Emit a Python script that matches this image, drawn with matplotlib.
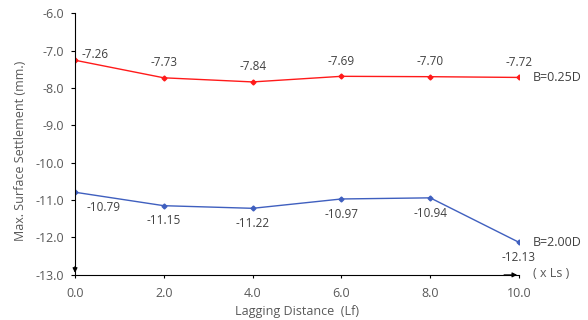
import matplotlib
matplotlib.use("Agg")
import matplotlib.pyplot as plt

x = [0.0, 2.0, 4.0, 6.0, 8.0, 10.0]
b025 = [-7.26, -7.73, -7.84, -7.69, -7.70, -7.72]
b200 = [-10.79, -11.15, -11.22, -10.97, -10.94, -12.13]
xticks = [0.0, 2.0, 4.0, 6.0, 8.0, 10.0]
yticks = [-6.0, -7.0, -8.0, -9.0, -10.0, -11.0, -12.0, -13.0]

plt.rcParams['font.family'] = ['Open Sans', 'DejaVu Sans']
grey = '#595959'
dark = '#404040'
red = '#FF1A1A'
blue = '#3F5FBF'

fig = plt.figure(figsize=(5.88, 3.2), dpi=100)
ax = fig.add_axes([0.1276, 0.141, 0.7551, 0.818])
ax.plot(x, b025, color=red, lw=1.0, marker='D', ms=2.5)
ax.plot(x, b200, color=blue, lw=1.0, marker='D', ms=2.5)
ax.set_xlim(0, 10)
ax.set_ylim(-13, -6)
ax.set_xticks(xticks)
ax.set_xticklabels([f"{v:.1f}" for v in xticks])
ax.set_yticks(yticks)
ax.set_yticklabels([f"{v:.1f}" for v in yticks])
for s in ['top', 'right']:
    ax.spines[s].set_visible(False)
for s in ['left', 'bottom']:
    ax.spines[s].set_color('black')
    ax.spines[s].set_linewidth(0.8)
ax.tick_params(axis='both', labelcolor=grey, color='black', labelsize=9, width=0.8, direction='out')
ax.tick_params(axis='x', length=2, pad=7)
ax.tick_params(axis='y', length=3, pad=5)
ax.set_xlabel('Lagging Distance  (Lf)', color=grey, fontsize=9, labelpad=3)
ax.set_ylabel('Max. Surface Settlement (mm.)', color=grey, fontsize=9)
ax.yaxis.set_label_coords(-0.108, 0.475)

# arrows
ax.annotate('', xy=(10.02, -13), xytext=(9.6, -13),
            arrowprops=dict(arrowstyle='-|>', color='black', lw=0.8, mutation_scale=7),
            annotation_clip=False)
ax.annotate('', xy=(0, -13.02), xytext=(0, -12.7),
            arrowprops=dict(arrowstyle='-|>', color='black', lw=0.8, mutation_scale=7),
            annotation_clip=False)

# labels
fs = 8.5
for i, (xi, yi) in enumerate(zip(x, b025)):
    if i == 0:
        ax.annotate(f"{yi:.2f}", (xi, yi), xytext=(5, 4), textcoords='offset points',
                    ha='left', va='center', fontsize=fs, color=dark)
    else:
        ax.annotate(f"{yi:.2f}", (xi, yi), xytext=(0, 11), textcoords='offset points',
                    ha='center', va='center', fontsize=fs, color=dark)
for i, (xi, yi) in enumerate(zip(x, b200)):
    if i == 0:
        ax.annotate(f"{yi:.2f}", (xi, yi), xytext=(8, -11), textcoords='offset points',
                    ha='left', va='center', fontsize=fs, color=dark)
    else:
        ax.annotate(f"{yi:.2f}", (xi, yi), xytext=(0, -11), textcoords='offset points',
                    ha='center', va='center', fontsize=fs, color=dark)

ax.annotate('B=0.25D', (x[-1], b025[-1]), xytext=(10, 0), textcoords='offset points',
            ha='left', va='center', fontsize=9, color=dark, annotation_clip=False)
ax.annotate('B=2.00D', (x[-1], b200[-1]), xytext=(10, 0), textcoords='offset points',
            ha='left', va='center', fontsize=9, color=dark, annotation_clip=False)
ax.annotate('( x Ls )', (10, -13), xytext=(10, 1), textcoords='offset points',
            ha='left', va='center', fontsize=9, color=grey, annotation_clip=False)

fig.savefig('out.png', dpi=100)
